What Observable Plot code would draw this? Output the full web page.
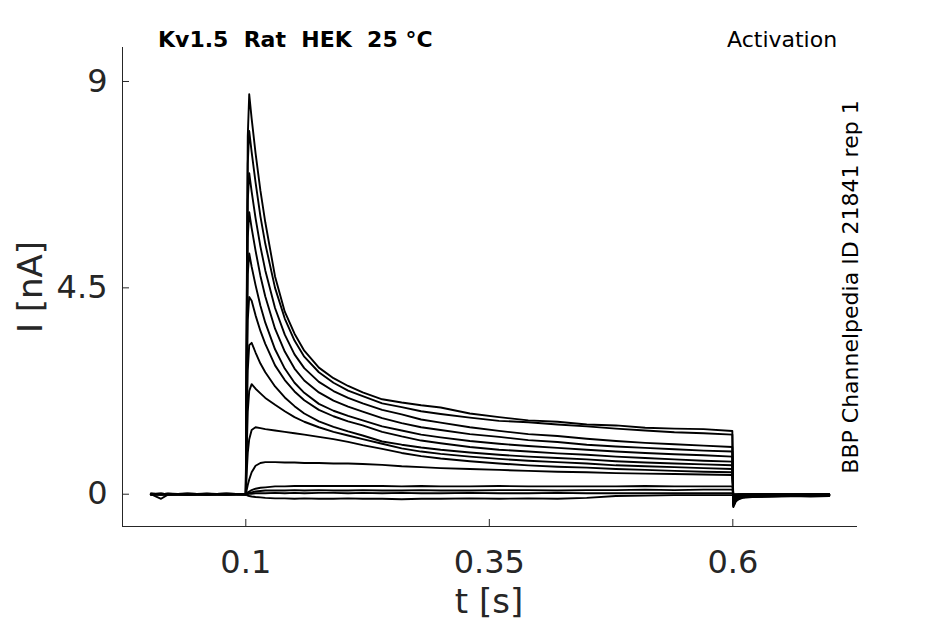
<!DOCTYPE html>
<html><head><meta charset="utf-8">
<script src="https://cdn.jsdelivr.net/npm/d3@7"></script>
<script src="https://cdn.jsdelivr.net/npm/@observablehq/plot@0.6"></script>
<style>html,body{margin:0;padding:0;background:#fff} svg{display:block}</style>
</head><body><div id="chart"></div>
<script>
// sample times [s]: baseline, voltage step (0.1–0.6 s), tail
const time = [0.0025, 0.013, 0.02, 0.04, 0.06, 0.08, 0.0995,
  0.1, 0.101, 0.102, 0.1035, 0.106, 0.11, 0.115, 0.12, 0.13, 0.14, 0.15, 0.16, 0.175, 0.19, 0.205, 0.22, 0.24, 0.26, 0.28, 0.30, 0.33, 0.36, 0.39, 0.42, 0.45, 0.48, 0.51, 0.54, 0.57, 0.5995,
  0.6005, 0.603, 0.606, 0.61, 0.62, 0.64, 0.66, 0.68, 0.699];

// current traces [nA], one per voltage step
const i01 = [0.01, 0.00, 0.01, -0.01, 0.01, 0.00, 0.01,
  0.01, 4.5, 7.8, 8.72, 8.19, 7.44, 6.62, 5.93, 4.75, 3.98, 3.50, 3.13, 2.76, 2.53, 2.36, 2.22, 2.07, 2.00, 1.94, 1.89, 1.76, 1.68, 1.61, 1.58, 1.52, 1.50, 1.45, 1.43, 1.42, 1.38,
  -0.28, -0.16, -0.11, -0.08, -0.06, -0.05, -0.04, -0.05, -0.04];
const i02 = [0.00, 0.01, 0.00, 0.01, 0.00, 0.01, 0.00,
  0.01, 4.0, 7.2, 7.92, 7.46, 6.80, 6.06, 5.46, 4.50, 3.83, 3.35, 3.00, 2.66, 2.43, 2.26, 2.14, 1.98, 1.90, 1.81, 1.75, 1.67, 1.60, 1.57, 1.52, 1.48, 1.43, 1.39, 1.35, 1.33, 1.30,
  -0.26, -0.15, -0.10, -0.07, -0.05, -0.05, -0.04, -0.03, -0.03];
const i03 = [-0.01, 0.00, 0.01, 0.00, -0.01, 0.00, 0.00,
  0.01, 3.6, 6.4, 7.00, 6.60, 6.02, 5.40, 4.88, 4.06, 3.48, 3.05, 2.75, 2.45, 2.25, 2.10, 1.98, 1.84, 1.74, 1.63, 1.56, 1.46, 1.38, 1.31, 1.27, 1.21, 1.16, 1.12, 1.09, 1.06, 1.03,
  -0.24, -0.14, -0.09, -0.07, -0.05, -0.04, -0.04, -0.03, -0.03];
const i04 = [0.01, 0.01, 0.00, 0.00, 0.01, -0.01, 0.01,
  0.00, 3.2, 5.6, 6.15, 5.80, 5.31, 4.76, 4.31, 3.61, 3.11, 2.74, 2.48, 2.22, 2.04, 1.91, 1.80, 1.66, 1.55, 1.46, 1.40, 1.31, 1.25, 1.18, 1.14, 1.08, 1.04, 1.01, 0.98, 0.95, 0.93,
  -0.22, -0.13, -0.08, -0.06, -0.05, -0.04, -0.03, -0.03, -0.02];
const i05 = [0.00, 0.00, -0.01, 0.01, 0.00, 0.00, 0.01,
  0.00, 2.8, 4.8, 5.25, 4.96, 4.56, 4.11, 3.74, 3.16, 2.74, 2.43, 2.21, 1.97, 1.82, 1.71, 1.61, 1.48, 1.39, 1.30, 1.24, 1.16, 1.10, 1.05, 1.01, 0.97, 0.93, 0.90, 0.87, 0.85, 0.82,
  -0.20, -0.12, -0.08, -0.06, -0.04, -0.04, -0.03, -0.02, -0.03];
const i06 = [0.01, -0.01, 0.00, 0.01, 0.00, 0.01, 0.00,
  0.00, 2.2, 3.8, 4.30, 4.22, 3.90, 3.56, 3.28, 2.81, 2.49, 2.24, 2.05, 1.84, 1.70, 1.59, 1.50, 1.36, 1.26, 1.17, 1.11, 1.03, 0.97, 0.93, 0.89, 0.86, 0.82, 0.79, 0.76, 0.73, 0.71,
  -0.18, -0.10, -0.07, -0.05, -0.04, -0.03, -0.03, -0.02, -0.02];
const i07 = [0.00, 0.01, 0.00, -0.01, 0.00, 0.00, 0.00,
  0.00, 1.6, 2.7, 3.25, 3.30, 3.09, 2.85, 2.66, 2.35, 2.11, 1.92, 1.76, 1.59, 1.47, 1.37, 1.28, 1.15, 1.08, 1.02, 0.97, 0.91, 0.86, 0.82, 0.79, 0.76, 0.72, 0.69, 0.67, 0.65, 0.63,
  -0.15, -0.09, -0.06, -0.05, -0.04, -0.03, -0.02, -0.02, -0.02];
const i08 = [0.00, 0.00, 0.01, 0.00, 0.00, 0.01, 0.00,
  0.00, 1.0, 1.8, 2.25, 2.40, 2.30, 2.20, 2.10, 1.95, 1.81, 1.68, 1.58, 1.46, 1.36, 1.28, 1.20, 1.10, 1.00, 0.93, 0.88, 0.82, 0.77, 0.73, 0.70, 0.67, 0.63, 0.61, 0.59, 0.57, 0.55,
  -0.12, -0.07, -0.05, -0.04, -0.03, -0.03, -0.02, -0.02, -0.01];
const i09 = [0.01, 0.00, 0.00, 0.00, 0.01, 0.00, 0.00,
  0.00, 0.5, 0.9, 1.2, 1.40, 1.46, 1.44, 1.42, 1.39, 1.36, 1.33, 1.30, 1.25, 1.20, 1.14, 1.07, 0.99, 0.90, 0.83, 0.78, 0.72, 0.67, 0.63, 0.60, 0.58, 0.55, 0.53, 0.51, 0.49, 0.48,
  -0.08, -0.05, -0.04, -0.03, -0.02, -0.02, -0.02, -0.01, -0.01];
const i10 = [0.00, 0.00, 0.00, 0.01, 0.00, 0.00, 0.01,
  0.00, 0.1, 0.2, 0.32, 0.48, 0.62, 0.68, 0.70, 0.70, 0.69, 0.69, 0.68, 0.68, 0.67, 0.67, 0.66, 0.64, 0.61, 0.59, 0.57, 0.55, 0.53, 0.51, 0.49, 0.48, 0.46, 0.45, 0.44, 0.43, 0.42,
  -0.05, -0.03, -0.02, -0.02, -0.01, -0.01, -0.01, -0.01, -0.01];
const i11 = [0.00, 0.01, 0.00, 0.00, 0.00, 0.01, 0.00,
  0.00, 0.02, 0.04, 0.06, 0.09, 0.12, 0.14, 0.15, 0.17, 0.17, 0.18, 0.18, 0.18, 0.18, 0.18, 0.18, 0.18, 0.17, 0.18, 0.17, 0.17, 0.18, 0.17, 0.17, 0.17, 0.17, 0.18, 0.17, 0.17, 0.17,
  -0.02, -0.01, -0.01, -0.01, 0.00, 0.00, -0.01, 0.00, 0.00];
const i12 = [0.00, 0.00, 0.00, -0.01, 0.00, 0.00, 0.00,
  0.00, 0.01, 0.02, 0.03, 0.04, 0.06, 0.07, 0.08, 0.08, 0.08, 0.09, 0.08, 0.09, 0.08, 0.08, 0.09, 0.08, 0.08, 0.09, 0.08, 0.08, 0.09, 0.09, 0.08, 0.09, 0.09, 0.10, 0.09, 0.10, 0.10,
  -0.01, -0.01, 0.00, 0.00, 0.00, 0.00, 0.00, 0.00, 0.00];
const i13 = [0.00, 0.00, 0.00, 0.00, 0.00, 0.00, 0.00,
  0.00, 0.00, 0.00, 0.01, 0.01, 0.02, 0.02, 0.02, 0.03, 0.02, 0.03, 0.02, 0.03, 0.03, 0.02, 0.03, 0.02, 0.03, 0.02, 0.02, 0.03, 0.02, 0.02, 0.03, 0.02, 0.02, 0.02, 0.02, 0.02, 0.02,
  0.00, 0.00, 0.00, 0.00, 0.00, 0.00, 0.00, 0.00, 0.00];
const i14 = [0.00, -0.10, -0.01, 0.00, -0.01, 0.00, -0.01,
  0.00, -0.02, -0.03, -0.04, -0.05, -0.06, -0.07, -0.08, -0.09, -0.09, -0.10, -0.09, -0.10, -0.10, -0.09, -0.10, -0.10, -0.11, -0.10, -0.10, -0.09, -0.10, -0.09, -0.10, -0.08, -0.04, -0.03, -0.02, -0.02, -0.02,
  -0.02, -0.01, -0.01, 0.00, 0.00, 0.00, 0.00, 0.00, 0.00];
const currents = [i01, i02, i03, i04, i05, i06, i07, i08, i09, i10, i11, i12, i13, i14];

const xTicks = [0.1, 0.35, 0.6];
const yTicks = [0, 4.5, 9];
const xDomain = [-0.0266, 0.728];
const yDomain = [-0.704, 9.741];
const titleText = "Kv1.5  Rat  HEK  25 °C";
const protocolText = "Activation";
const sourceText = "BBP Channelpedia ID 21841 rep 1";
const xLabel = "t [s]";
const yLabel = "I [nA]";

const data = currents.flatMap((vals, k) => vals.map((v, j) => ({trace: k, t: time[j], i: v})));
const axisColor = "#262626";

const plot = Plot.plot({
  width: 945, height: 624,
  marginLeft: 122, marginRight: 88, marginTop: 47, marginBottom: 98,
  style: {fontFamily: "DejaVu Sans", color: axisColor, background: "white", overflow: "visible"},
  x: {domain: xDomain},
  y: {domain: yDomain},
  marks: [
    Plot.line(data, {x: "t", y: "i", z: "trace", stroke: "black", strokeWidth: 1.9, strokeLinejoin: "round"}),
    Plot.ruleX([xDomain[0]], {stroke: axisColor, strokeWidth: 1}),
    Plot.ruleY([yDomain[0]], {stroke: axisColor, strokeWidth: 1}),
    Plot.axisX({ticks: xTicks, tickSize: -7, tickPadding: 31, fontSize: 32, label: null, tickFormat: d => String(d)}),
    Plot.axisY({ticks: yTicks, tickSize: -7, tickPadding: 22, fontSize: 32, label: null, tickFormat: d => String(d)})
  ]
});

const svg = d3.select(plot);
svg.append("text").attr("x", 158).attr("y", 47).attr("text-anchor", "start")
  .attr("font-size", 22).attr("font-weight", "bold").attr("fill", "black")
  .attr("xml:space", "preserve").style("white-space", "pre").text(titleText);
svg.append("text").attr("x", 727).attr("y", 47).attr("text-anchor", "start")
  .attr("font-size", 22).attr("fill", "black").text(protocolText);
svg.append("text").attr("transform", "translate(858,287) rotate(-90)")
  .attr("text-anchor", "middle").attr("font-size", 22).attr("fill", "black").text(sourceText);
svg.append("text").attr("transform", "translate(42,287) rotate(-90)")
  .attr("text-anchor", "middle").attr("font-size", 34).attr("fill", axisColor).text(yLabel);
svg.append("text").attr("x", 489).attr("y", 613)
  .attr("text-anchor", "middle").attr("font-size", 34).attr("fill", axisColor).text(xLabel);

document.getElementById("chart").appendChild(plot);
</script>
</body></html>
